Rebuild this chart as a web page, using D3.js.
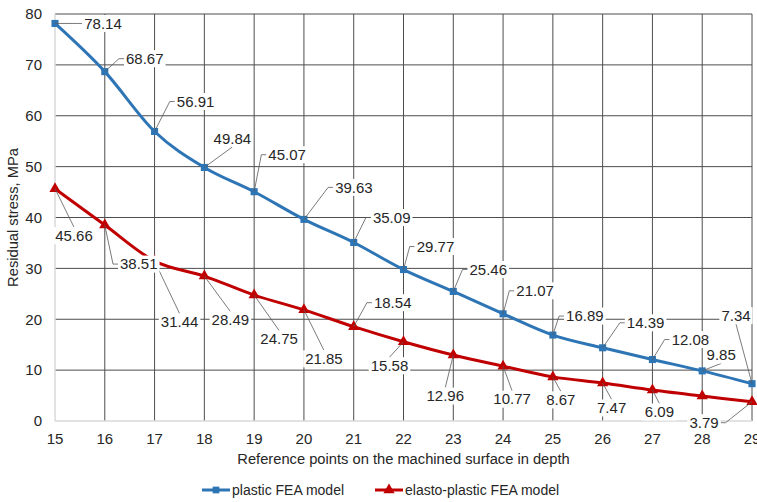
<!DOCTYPE html>
<html>
<head>
<meta charset="utf-8">
<script src="https://cdn.jsdelivr.net/npm/d3@7"></script>
<style>
  body { margin: 0; background: #fff; }
  svg { display: block; font-family: "Liberation Sans", Arial, sans-serif; }
</style>
</head>
<body>
<div id="chart"></div>
<script>
const width = 757;
const height = 502;
const margin = { top: 14, right: 5, bottom: 81, left: 55 };

// Data
const points = [15, 16, 17, 18, 19, 20, 21, 22, 23, 24, 25, 26, 27, 28, 29];
const plastic = [78.14, 68.67, 56.91, 49.84, 45.07, 39.63, 35.09, 29.77, 25.46, 21.07, 16.89, 14.39, 12.08, 9.85, 7.34];
const elastoPlastic = [45.66, 38.51, 31.44, 28.49, 24.75, 21.85, 18.54, 15.58, 12.96, 10.77, 8.67, 7.47, 6.09, 4.9, 3.79];
const elastoLabels = [45.66, 38.51, 31.44, 28.49, 24.75, 21.85, 18.54, 15.58, 12.96, 10.77, 8.67, 7.47, 6.09, null, 3.79];
const yTicks = [0, 10, 20, 30, 40, 50, 60, 70, 80];
const seriesNames = ["plastic FEA model", "elasto-plastic FEA model"];

// Label placement (pixel offset of label centre from its point)
const plasticOffsets = [[48, 0], [40, -13], [41, -30], [28, -29], [33, -37], [50, -32], [38, -25], [32, -23],
  [35, -22], [32, -23], [32, -19], [43, -25], [38, -20], [19, -16], [-16, -68]];
const elastoOffsets = [[19, 47], [34, 39], [25, 61], [26, 44], [25, 44], [20, 49], [39, -24], [-14, 24],
  [-8, 41], [9, 33], [8, 23], [9, 25], [7, 22], null, [-48, 21]];

const blue = "#2e75b6";
const red = "#c00000";
const gridColor = "#4d4d4d";
const axisColor = "#d9d9d9";

const svg = d3.select("#chart").append("svg")
  .attr("width", width)
  .attr("height", height);

const x = d3.scaleLinear()
  .domain([15, 29])
  .range([margin.left, width - margin.right]);
const y = d3.scaleLinear()
  .domain([0, 80])
  .range([height - margin.bottom, margin.top]);

// Gridlines
const grid = svg.append("g");
grid.selectAll("line.h")
  .data(yTicks.filter((d) => d > 0))
  .join("line")
  .attr("x1", x(15)).attr("x2", x(29))
  .attr("y1", (d) => y(d)).attr("y2", (d) => y(d))
  .attr("stroke", gridColor).attr("stroke-width", 1);
grid.selectAll("line.v")
  .data(points.filter((d) => d > 15))
  .join("line")
  .attr("x1", (d) => x(d)).attr("x2", (d) => x(d))
  .attr("y1", y(80)).attr("y2", y(0))
  .attr("stroke", gridColor).attr("stroke-width", 1);

// Axes
svg.append("line")
  .attr("x1", x(15)).attr("x2", x(15)).attr("y1", y(80)).attr("y2", y(0))
  .attr("stroke", axisColor).attr("stroke-width", 1.5);
svg.append("line")
  .attr("x1", x(15)).attr("x2", x(29)).attr("y1", y(0)).attr("y2", y(0))
  .attr("stroke", axisColor).attr("stroke-width", 1.5);

svg.append("g").selectAll("text")
  .data(yTicks)
  .join("text")
  .attr("x", x(15) - 13)
  .attr("y", (d) => y(d))
  .attr("dy", "0.35em")
  .attr("text-anchor", "end")
  .attr("font-size", 15)
  .attr("fill", "#262626")
  .text((d) => d);

svg.append("g").selectAll("text")
  .data(points)
  .join("text")
  .attr("x", (d) => x(d))
  .attr("y", y(0) + 18)
  .attr("dy", "0.35em")
  .attr("text-anchor", "middle")
  .attr("font-size", 15)
  .attr("fill", "#262626")
  .text((d) => d);

// Axis titles
svg.append("text")
  .attr("x", (x(15) + x(29)) / 2)
  .attr("y", 459)
  .attr("dy", "0.35em")
  .attr("text-anchor", "middle")
  .attr("font-size", 14.7)
  .attr("fill", "#262626")
  .text("Reference points on the machined surface in depth");
svg.append("text")
  .attr("transform", `translate(13, ${(y(0) + y(80)) / 2}) rotate(-90)`)
  .attr("dy", "0.35em")
  .attr("text-anchor", "middle")
  .attr("font-size", 14.7)
  .attr("fill", "#262626")
  .text("Residual stress, MPa");

// Lines
const line = d3.line()
  .x((d) => x(d[0]))
  .y((d) => y(d[1]))
  .curve(d3.curveCatmullRom.alpha(0));

const series = [
  { values: plastic, color: blue, symbol: d3.symbolSquare, size: 50, labels: plastic, offsets: plasticOffsets },
  { values: elastoPlastic, color: red, symbol: d3.symbolTriangle, size: 55, labels: elastoLabels, offsets: elastoOffsets }
];

series.forEach((s) => {
  const pts = points.map((p, i) => [p, s.values[i]]);
  svg.append("path")
    .datum(pts)
    .attr("d", line)
    .attr("fill", "none")
    .attr("stroke", s.color)
    .attr("stroke-width", 3);
  svg.append("g").selectAll("path")
    .data(pts)
    .join("path")
    .attr("transform", (d) => `translate(${x(d[0])},${y(d[1])})`)
    .attr("d", d3.symbol(s.symbol, s.size))
    .attr("fill", s.color);
});

// Data labels with leader lines
const leaders = svg.append("g");
const labelLayer = svg.append("g");

series.forEach((s) => {
  points.forEach((p, i) => {
    const value = s.labels[i];
    if (value == null) return;
    const px = x(p);
    const py = y(s.values[i]);
    const [dx, dy] = s.offsets[i];
    const cx = px + dx;
    const cy = py + dy;

    const g = labelLayer.append("g");
    const rect = g.append("rect").attr("fill", "#fff");
    const text = g.append("text")
      .attr("x", cx)
      .attr("y", cy)
      .attr("dy", "0.35em")
      .attr("text-anchor", "middle")
      .attr("font-size", 15)
      .attr("fill", "#262626")
      .text(value.toFixed(2));
    const w = text.node().getComputedTextLength();
    const h = 17;
    const left = cx - w / 2 - 2;
    const right = cx + w / 2 + 2;
    const top = cy - h / 2;
    const bottom = cy + h / 2;
    rect.attr("x", left).attr("y", top).attr("width", right - left).attr("height", h);

    let path;
    if (left > px + 8) {
      path = [[px, py], [left - 5, cy], [left, cy]];
    } else if (right < px - 8) {
      path = [[px, py], [right + 5, cy], [right, cy]];
    } else if (cy > py) {
      path = [[px, py], [cx, top]];
    } else {
      path = [[px, py], [cx, bottom]];
    }
    leaders.append("path")
      .attr("d", d3.line()(path))
      .attr("fill", "none")
      .attr("stroke", "#595959")
      .attr("stroke-width", 0.8);
  });
});

// Legend
const legend = svg.append("g").attr("transform", "translate(0, 490)");
const legendItems = [
  { x: 202, color: blue, symbol: d3.symbolSquare, size: 45, name: seriesNames[0] },
  { x: 375, color: red, symbol: d3.symbolTriangle, size: 55, name: seriesNames[1] }
];
legendItems.forEach((item) => {
  legend.append("line")
    .attr("x1", item.x).attr("x2", item.x + 28)
    .attr("y1", 0).attr("y2", 0)
    .attr("stroke", item.color).attr("stroke-width", 3);
  legend.append("path")
    .attr("transform", `translate(${item.x + 14},0)`)
    .attr("d", d3.symbol(item.symbol, item.size))
    .attr("fill", item.color);
  legend.append("text")
    .attr("x", item.x + 30)
    .attr("y", 0)
    .attr("dy", "0.35em")
    .attr("font-size", 14)
    .attr("fill", "#262626")
    .text(item.name);
});
</script>
</body>
</html>
